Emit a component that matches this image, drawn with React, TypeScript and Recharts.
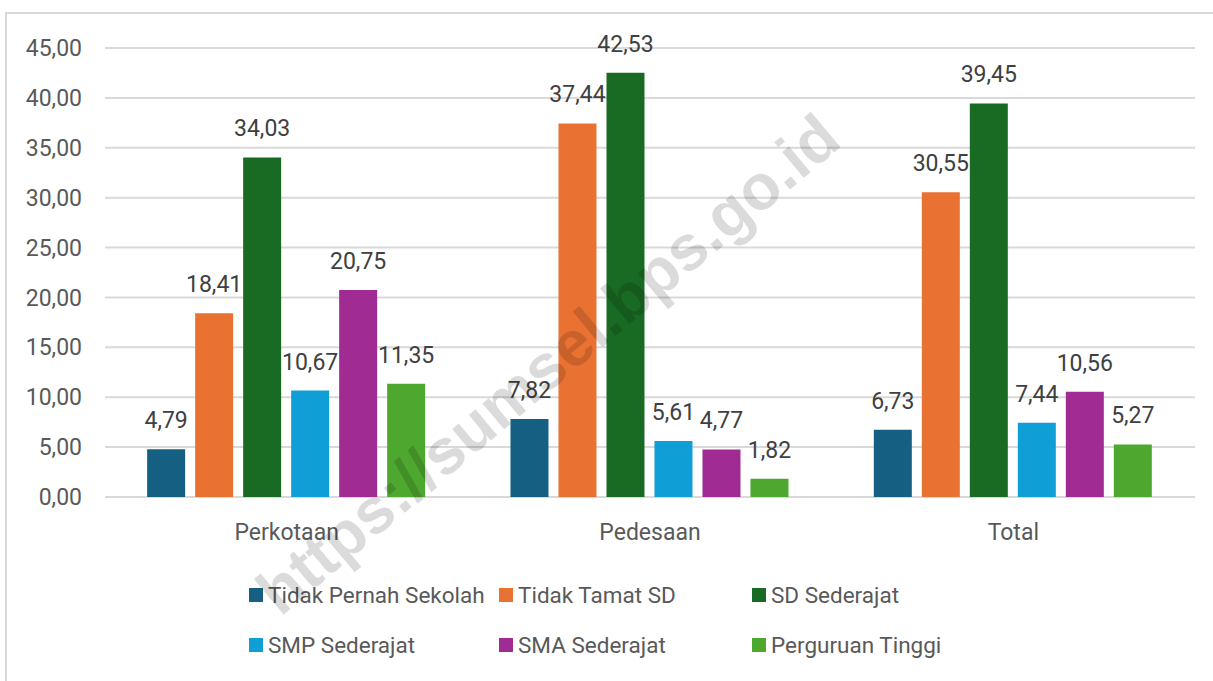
import { BarChart, Bar, XAxis, YAxis, CartesianGrid, LabelList, Legend } from 'recharts';

const categories = ['Perkotaan', 'Pedesaan', 'Total'];

const tidakPernahSekolah = [4.79, 7.82, 6.73];
const tidakTamatSD = [18.41, 37.44, 30.55];
const sdSederajat = [34.03, 42.53, 39.45];
const smpSederajat = [10.67, 5.61, 7.44];
const smaSederajat = [20.75, 4.77, 10.56];
const perguruanTinggi = [11.35, 1.82, 5.27];

const yTicks = [0, 5, 10, 15, 20, 25, 30, 35, 40, 45];

const series = [
  { key: 'tps', name: 'Tidak Pernah Sekolah', color: '#156082', values: tidakPernahSekolah },
  { key: 'tts', name: 'Tidak Tamat SD', color: '#E97132', values: tidakTamatSD },
  { key: 'sd', name: 'SD Sederajat', color: '#196B24', values: sdSederajat },
  { key: 'smp', name: 'SMP Sederajat', color: '#0F9ED5', values: smpSederajat },
  { key: 'sma', name: 'SMA Sederajat', color: '#A02B93', values: smaSederajat },
  { key: 'pt', name: 'Perguruan Tinggi', color: '#4EA72E', values: perguruanTinggi },
];

const data = categories.map((name, i) => {
  const row: Record<string, string | number> = { name };
  series.forEach((s) => (row[s.key] = s.values[i]));
  return row;
});

const fmt = (v: number) => v.toFixed(2).replace('.', ',');
const font = 'Roboto, "Noto Sans", sans-serif';

const LegendGrid = () => (
  <div
    style={{
      height: 110,
      width: 1213,
      display: 'grid',
      gridTemplateColumns: '250px 253px 260px',
      gridAutoRows: '50px',
      paddingLeft: 249,
      boxSizing: 'border-box',
      fontFamily: font,
      fontSize: 22.5,
      color: '#595959',
    }}
  >
    {series.map((s) => (
      <div key={s.key} style={{ display: 'flex', alignItems: 'center', whiteSpace: 'nowrap' }}>
        <span style={{ width: 14, height: 14, background: s.color, marginRight: 5, flexShrink: 0 }} />
        <span>{s.name}</span>
      </div>
    ))}
  </div>
);

export default function App() {
  return (
    <div style={{ position: 'absolute', left: 0, top: 0, width: 1213, height: 681, background: '#fff', overflow: 'hidden' }}>
      <div
        style={{
          position: 'absolute',
          left: 5,
          top: 12,
          width: 1230,
          height: 700,
          border: '2px solid #d9d9d9',
        }}
      />
      <div style={{ position: 'absolute', left: 0, top: 0 }}>
        <BarChart
          width={1213}
          height={681}
          data={data}
          margin={{ top: 48, right: 18, left: 0, bottom: 14 }}
          barCategoryGap="11.6%"
          barGap={10}
        >
          <CartesianGrid vertical={false} stroke="#d9d9d9" strokeWidth={2} />
          <XAxis
            dataKey="name"
            axisLine={false}
            tickLine={false}
            tickSize={0}
            tickMargin={27}
            height={60}
            tick={{ fill: '#595959', fontSize: 23, fontFamily: font }}
          />
          <YAxis
            domain={[0, 45]}
            ticks={yTicks}
            interval={0}
            width={105}
            axisLine={false}
            tickLine={false}
            tickSize={0}
            tickMargin={23}
            tickFormatter={fmt}
            tick={{ fill: '#595959', fontSize: 23, fontFamily: font }}
          />
          <Legend
            content={() => <LegendGrid />}
            verticalAlign="bottom"
            wrapperStyle={{ left: 0, top: 570, width: 1213, height: 110 }}
          />
          {series.map((s) => (
            <Bar key={s.key} dataKey={s.key} name={s.name} fill={s.color} isAnimationActive={false}>
              <LabelList
                dataKey={s.key}
                position="top"
                offset={21}
                formatter={(v: number) => fmt(v)}
                style={{ fill: '#404040', fontSize: 23, fontFamily: font }}
              />
            </Bar>
          ))}
        </BarChart>
      </div>
      <div
        style={{
          position: 'absolute',
          left: 548,
          top: 364,
          transform: 'translate(-50%, -50%) rotate(-40deg)',
          fontFamily: '"Liberation Sans", Arial, sans-serif',
          fontWeight: 'bold',
          fontSize: 64,
          color: 'rgba(0,0,0,0.14)',
          whiteSpace: 'nowrap',
          pointerEvents: 'none',
        }}
      >
        https://sumsel.bps.go.id
      </div>
    </div>
  );
}
